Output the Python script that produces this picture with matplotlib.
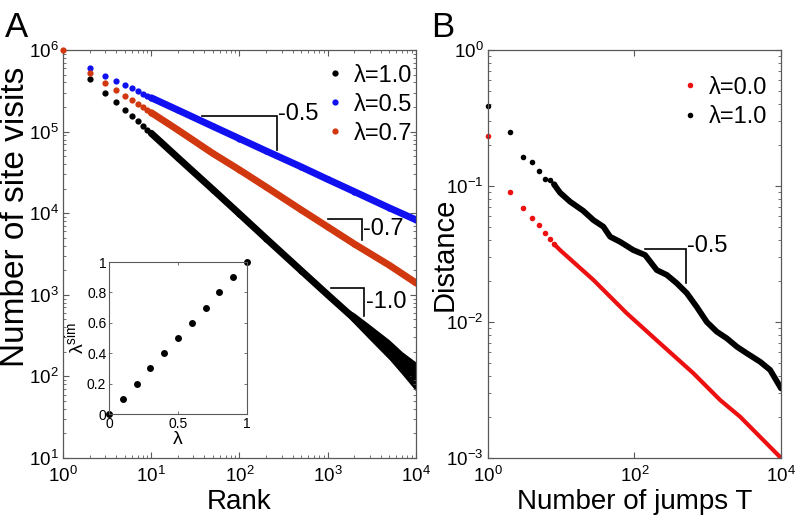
"""Rank-frequency of site visits (A) and distance vs. number of jumps (B)."""

import matplotlib
matplotlib.use("Agg")
import matplotlib.pyplot as plt
from matplotlib.ticker import LogLocator, NullFormatter, NullLocator


plt.rcParams["font.family"] = ["Liberation Sans", "DejaVu Sans"]
plt.rcParams["mathtext.fontset"] = "custom"
plt.rcParams["mathtext.rm"] = "Liberation Sans"
plt.rcParams["mathtext.it"] = "Liberation Sans:italic"
plt.rcParams["mathtext.default"] = "regular"

BLACK = "#000000"
BLUE = "#1010f0"
ORANGE = "#d2380f"
RED = "#ec1010"

# ---- panel A: number of site visits vs rank -------------------------------
rank = [1, 2, 3, 4, 5, 6, 7, 8, 9, 10,
        20, 50, 100, 200, 500, 1000, 2000, 5000, 10000]
visits_l10 = [1.0e6, 4.38e5, 3.0e5, 2.29e5, 1.84e5, 1.56e5, 1.35e5, 1.17e5, 1.05e5, 9.55e4,
              4.8e4, 1.95e4, 9.8e3, 4.9e3, 1.98e3, 1.0e3, 510, 210, 100]
visits_l05 = [1.0e6, 5.97e5, 4.84e5, 4.18e5, 3.73e5, 3.40e5, 3.12e5, 2.92e5, 2.76e5, 2.6e5,
              1.84e5, 1.16e5, 8.2e4, 5.8e4, 3.7e4, 2.6e4, 1.84e4, 1.16e4, 8.3e3]
visits_l07 = [1.0e6, 5.27e5, 3.91e5, 3.21e5, 2.76e5, 2.44e5, 2.2e5, 2.02e5, 1.84e5, 1.71e5,
              1.05e5, 5.4e4, 3.4e4, 2.1e4, 1.1e4, 6.8e3, 4.2e3, 2.3e3, 1.4e3]

# noisy tail of the lambda=1.0 curve (upper / lower edge)
tail_rank = [1500, 2000, 3000, 5000, 7000, 10000]
tail_hi = [720, 600, 430, 280, 200, 150]
tail_lo = [620, 440, 280, 160, 105, 66]

# slope guides: (x0, x1, y_top, y_bottom, label, label placed at "top" or "mid")
guides_a = [
    (37.5, 263, 1.57e5, 5.97e4, "-0.5", "top"),
    (1010, 2415, 8.5e3, 4.72e3, "-0.7", "mid"),
    (1100, 2580, 1210, 545, "-1.0", "mid"),
]

# inset: estimated vs true lambda
lam = [0, 0.1, 0.2, 0.3, 0.4, 0.5, 0.6, 0.7, 0.8, 0.9, 1.0]
lam_sim = [0, 0.1, 0.2, 0.3, 0.4, 0.5, 0.6, 0.7, 0.8, 0.9, 1.0]

# ---- panel B: distance vs number of jumps ---------------------------------
jumps_dots = [1, 2, 3, 4, 5, 6, 7, 8]
dist_l10_dots = [0.39, 0.25, 0.164, 0.149, 0.129, 0.113, 0.110, 0.103]
dist_l00_dots = [0.234, 0.090, 0.0686, 0.0585, 0.0517, 0.0454, 0.0408, 0.0375]

jumps_l10 = [8, 9.7, 13.3, 20, 27.6, 37.8, 46.7, 63.8, 96.8, 140, 202, 277, 378, 519,
             710, 973, 1330, 1820, 2500, 3410, 5190, 7100, 10000]
dist_l10 = [0.103, 0.0893, 0.0767, 0.0658, 0.0562, 0.0502, 0.0424, 0.0389, 0.0338, 0.0311,
            0.0241, 0.0222, 0.0193, 0.0163, 0.0129, 0.0100, 0.00849, 0.00759, 0.00658,
            0.00589, 0.0051, 0.00444, 0.00325]

jumps_l00 = [8, 9.7, 27.6, 78.7, 224, 638, 1476, 2770, 10000]
dist_l00 = [0.0375, 0.0338, 0.0204, 0.0116, 0.00697, 0.0042, 0.00267, 0.00201, 0.001]

guides_b = [(140, 503, 0.0342, 0.0193, "-0.5", "top")]


def style_log_axes(ax, minor_x=True):
    ax.set_xscale("log")
    ax.set_yscale("log")
    ax.tick_params(which="both", direction="in", top=True, right=True,
                   color="0.35", labelsize=13.5)
    ax.tick_params(axis="x", pad=6)
    ax.tick_params(axis="y", pad=3)
    ax.tick_params(which="major", length=4, width=0.8)
    ax.tick_params(which="minor", length=2.2, width=0.6)
    for sp in ax.spines.values():
        sp.set_color("0.35")
        sp.set_linewidth(0.9)
    ax.yaxis.set_minor_locator(LogLocator(base=10, subs=range(2, 10), numticks=20))
    ax.yaxis.set_minor_formatter(NullFormatter())
    if minor_x:
        ax.xaxis.set_minor_locator(LogLocator(base=10, subs=range(2, 10), numticks=20))
        ax.xaxis.set_minor_formatter(NullFormatter())
    else:
        ax.xaxis.set_minor_locator(NullLocator())


def draw_guides(ax, guides, fs=17):
    for x0, x1, ytop, ybot, lab, where in guides:
        ax.plot([x0, x1, x1], [ytop, ytop, ybot], color="black", lw=1.2,
                solid_joinstyle="miter")
        if where == "mid":
            ax.text(x1 * 1.05, (ytop * ybot) ** 0.5, lab, fontsize=fs,
                    ha="left", va="center")
        else:
            ax.text(x1 * 1.04, ytop * 1.06, lab, fontsize=fs,
                    ha="left", va="center")


fig = plt.figure(figsize=(7.96, 5.2), dpi=100)

# ---- A ----
ax_a = fig.add_axes([0.0791, 0.1192, 0.4435, 0.7846])
style_log_axes(ax_a)

n_dots = 10
for vals, col, lab in [(visits_l10, BLACK, "λ=1.0"),
                       (visits_l05, BLUE, "λ=0.5"),
                       (visits_l07, ORANGE, "λ=0.7")]:
    ax_a.plot(rank[1:], vals[1:], color=col, lw=0, marker="o", ms=4.5,
              mec="none", label=lab)
    ax_a.plot(rank[n_dots - 1:], vals[n_dots - 1:], color=col, lw=5.0,
              solid_capstyle="round")
ax_a.fill_between(tail_rank, tail_lo, tail_hi, color=BLACK, lw=0)
# first-rank point, shared by all curves (red drawn on top)
ax_a.plot(rank[0], visits_l07[0], "o", color=ORANGE, ms=4.5, mec="none",
          clip_on=False, zorder=5)

draw_guides(ax_a, guides_a)

ax_a.set_xlim(1, 1e4)
ax_a.set_ylim(10, 1e6)
ax_a.set_xlabel("Rank", fontsize=20, labelpad=2)
ax_a.set_ylabel("Number of site visits", fontsize=24)
ax_a.yaxis.set_label_coords(-0.091, 0.59)
ax_a.legend(loc="upper right", frameon=False, fontsize=17, handlelength=0.6,
            handletextpad=0.5, labelspacing=0.3, borderaxespad=0.3,
            bbox_to_anchor=(1.037, 1.005))

fig.text(0.006, 0.929, "A", fontsize=25, ha="left", va="baseline")

# ---- inset ----
ax_in = fig.add_axes([0.137, 0.2038, 0.1734, 0.2923])
ax_in.plot(lam, lam_sim, "o", color="black", ms=5, mec="none", clip_on=False)
ax_in.set_xlim(0, 1)
ax_in.set_ylim(0, 1)
ax_in.set_xticks([0, 0.5, 1])
ax_in.set_xticklabels(["0", "0.5", "1"])
ax_in.set_yticks([0, 0.2, 0.4, 0.6, 0.8, 1])
ax_in.set_yticklabels(["0", "0.2", "0.4", "0.6", "0.8", "1"])
ax_in.tick_params(direction="in", top=True, right=True, length=2.5, width=0.6,
                  color="0.35", labelsize=10, pad=2)
for sp in ax_in.spines.values():
    sp.set_color("0.35")
    sp.set_linewidth(0.8)
ax_in.set_xlabel("λ", fontsize=14, labelpad=0)
ax_in.set_ylabel("$λ^{sim}$", fontsize=14, labelpad=0)

# ---- B ----
ax_b = fig.add_axes([0.6127, 0.1192, 0.3685, 0.7846])
style_log_axes(ax_b, minor_x=False)

ax_b.plot(jumps_dots, dist_l00_dots, "o", color=RED, ms=4, mec="none",
          label="λ=0.0", clip_on=False)
ax_b.plot(jumps_dots, dist_l10_dots, "o", color=BLACK, ms=4, mec="none",
          label="λ=1.0", clip_on=False)
ax_b.plot(jumps_l00, dist_l00, color=RED, lw=3.0, solid_capstyle="round")
ax_b.plot(jumps_l10, dist_l10, color=BLACK, lw=4.2, solid_capstyle="round")

draw_guides(ax_b, guides_b)

ax_b.set_xlim(1, 1e4)
ax_b.set_ylim(1e-3, 1)
ax_b.set_xticks([1, 1e2, 1e4])
ax_b.set_xlabel("Number of jumps T", fontsize=20, labelpad=2)
ax_b.set_ylabel("Distance", fontsize=21)
ax_b.yaxis.set_label_coords(-0.1, 0.499)
ax_b.legend(loc="upper right", frameon=False, fontsize=17, handlelength=0.6,
            handletextpad=0.5, labelspacing=0.3, borderaxespad=0.3,
            bbox_to_anchor=(1.01, 0.975))

fig.text(0.542, 0.929, "B", fontsize=25, ha="left", va="baseline")

fig.savefig("out.png", dpi=100)
